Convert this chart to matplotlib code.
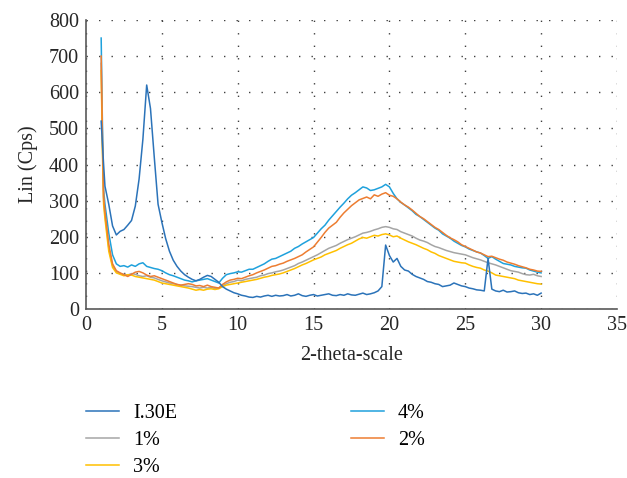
import numpy as np
import matplotlib
matplotlib.use("Agg")
import matplotlib.pyplot as plt

plt.rcParams['font.family'] = ['Liberation Serif', 'DejaVu Serif']

# 2-theta grid (a few extra points at the steep start)
two_theta = np.concatenate([[1.0, 1.08, 1.16], np.arange(1.25, 30.001, 0.25)])

i30e = [520, 460, 400,
        340, 290, 230, 205, 215, 220, 232, 245, 285, 360, 470, 620,
        555, 420, 290, 240, 195, 160, 135, 118, 105, 95, 88, 82,
        78, 82, 88, 93, 90, 82, 74, 62, 55, 50, 45, 42,
        38, 36, 33, 32, 35, 33, 36, 38, 35, 38, 36, 37,
        40, 36, 38, 42, 37, 35, 38, 40, 36, 38, 40, 42,
        38, 37, 40, 38, 42, 39, 38, 41, 44, 40, 42, 45,
        50, 62, 177, 148, 130, 140, 118, 108, 105, 96, 90, 86,
        82, 76, 74, 70, 68, 62, 64, 66, 72, 68, 64, 62,
        58, 56, 53, 52, 50, 140, 55, 50, 48, 52, 47, 48,
        50, 45, 43, 44, 40, 42, 38, 44]

pct4 = [750, 520, 330,
        290, 210, 150, 125, 118, 120, 116, 122, 118, 125, 128, 118,
        115, 112, 110, 106, 100, 95, 92, 88, 84, 80, 78, 75,
        78, 80, 82, 84, 80, 76, 72, 85, 95, 98, 100, 103,
        102, 106, 110, 110, 115, 120, 125, 132, 138, 140, 145, 150,
        155, 160, 168, 173, 180, 186, 192, 198, 210, 222, 232, 246,
        258, 270, 282, 293, 305, 315, 322, 330, 338, 335, 328, 330,
        334, 338, 345, 338, 320, 305, 295, 288, 280, 272, 262, 256,
        248, 240, 232, 224, 218, 208, 202, 196, 188, 182, 176, 172,
        166, 162, 158, 155, 148, 140, 145, 138, 132, 126, 124, 122,
        118, 116, 114, 113, 108, 105, 102, 100]

pct2 = [700, 480, 310,
        270, 180, 125, 106, 100, 95, 90, 96, 102, 104, 100, 94,
        90, 92, 88, 84, 80, 76, 72, 68, 66, 68, 70, 68,
        64, 65, 62, 66, 62, 60, 58, 68, 75, 80, 82, 85,
        84, 88, 92, 95, 100, 104, 108, 113, 118, 120, 124, 127,
        132, 136, 140, 145, 150, 158, 165, 172, 185, 198, 212, 224,
        232, 240, 254, 266, 276, 286, 294, 302, 306, 310, 305, 316,
        312, 318, 322, 315, 312, 305, 296, 288, 282, 274, 265, 256,
        250, 242, 234, 226, 220, 212, 204, 197, 192, 186, 178, 173,
        168, 163, 158, 155, 150, 145, 146, 142, 138, 135, 130, 127,
        124, 120, 117, 114, 110, 108, 105, 104]

pct1 = [680, 470, 300,
        260, 170, 120, 104, 98, 96, 94, 98, 96, 92, 90, 92,
        88, 86, 82, 78, 75, 72, 70, 68, 66, 64, 63, 62,
        60, 58, 60, 58, 60, 56, 58, 64, 70, 74, 76, 80,
        78, 82, 84, 86, 88, 92, 94, 98, 100, 103, 105, 108,
        112, 116, 120, 126, 130, 135, 140, 145, 150, 156, 162, 168,
        172, 176, 182, 187, 192, 196, 200, 205, 210, 212, 215, 219,
        222, 226, 228, 226, 222, 220, 214, 210, 206, 202, 196, 191,
        188, 184, 178, 173, 170, 166, 162, 159, 156, 154, 152, 150,
        146, 142, 139, 136, 132, 128, 125, 122, 118, 114, 110, 106,
        104, 102, 98, 95, 94, 96, 92, 90]

pct3 = [660, 440, 290,
        250, 160, 115, 100, 96, 92, 95, 94, 90, 88, 86, 84,
        82, 80, 76, 72, 70, 68, 66, 64, 62, 60, 58, 55,
        52, 54, 52, 55, 56, 54, 56, 62, 66, 68, 70, 72,
        74, 76, 78, 80, 82, 85, 88, 90, 93, 95, 97, 100,
        104, 108, 112, 117, 122, 126, 131, 136, 140, 144, 150, 154,
        158, 162, 168, 173, 178, 182, 188, 194, 198, 196, 200, 204,
        202, 206, 208, 205, 200, 202, 196, 191, 186, 182, 178, 173,
        168, 164, 158, 154, 148, 144, 140, 136, 132, 130, 128, 127,
        122, 118, 115, 113, 108, 105, 100, 94, 92, 90, 88, 86,
        84, 80, 78, 76, 74, 72, 70, 69]

fig = plt.figure(figsize=(6.27, 4.78), dpi=100)
ax = fig.add_axes([86/627, 1-309/478, (617-86)/627, (309-20)/478])

l4, = ax.plot(two_theta, pct4, color='#1fa1dc', lw=1.1, label='4%')
l1, = ax.plot(two_theta, pct1, color='#a5a5a5', lw=1.1, label='1%')
l3, = ax.plot(two_theta, pct3, color='#ffc000', lw=1.1, label='3%')
l2, = ax.plot(two_theta, pct2, color='#ed7d31', lw=1.1, label='2%')
l0, = ax.plot(two_theta, i30e, color='#2b73b9', lw=1.1, label='I.30E')

ax.set_xlim(0, 35)
ax.set_ylim(0, 800)
ax.set_xticks(range(0, 36, 5))
ax.set_yticks(range(0, 801, 100))
ax.grid(True, color='#404040', linestyle=(0, (1, 8)), linewidth=1.0)
ax.set_axisbelow(True)
for s in ['top', 'right']:
    ax.spines[s].set_visible(False)
for s in ['left', 'bottom']:
    ax.spines[s].set_color('#595959')
    ax.spines[s].set_linewidth(1.2)
ax.tick_params(length=0, labelsize=14.5, colors='#262626', pad=5)

ax.set_xlabel('2-theta-scale', fontsize=14.5, color='#262626', labelpad=8)
ax.set_ylabel('Lin (Cps)', fontsize=14.5, color='#262626', labelpad=8)

fig.legend([l0, l1, l3, l4, l2], ['I.30E', '1%', '3%', '4%', '2%'],
           ncol=2, loc='upper left', bbox_to_anchor=(86/627, 1-404/478),
           frameon=False, fontsize=14.5, handlelength=1.65, handletextpad=0.7,
           columnspacing=8.6, labelspacing=0.4, borderpad=0, borderaxespad=0)

fig.savefig('out.png', dpi=100)
